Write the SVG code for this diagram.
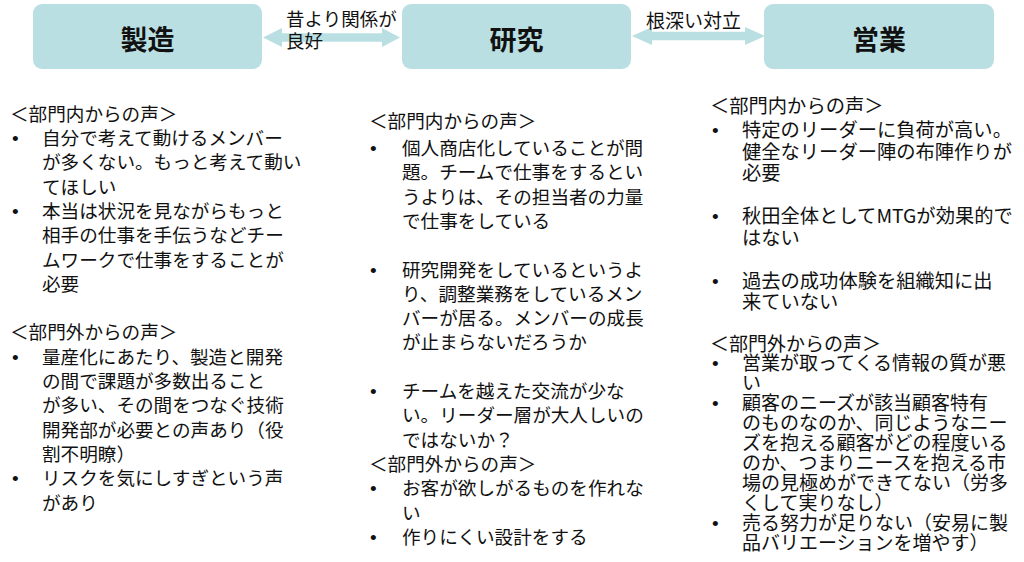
<svg xmlns="http://www.w3.org/2000/svg" width="1024" height="562" viewBox="0 0 1024 562">
<style>
.box{fill:#b9dfe3;}
.arrow{fill:#b9dfe3;}
.title{font-family:"Noto Sans CJK JP","Noto Sans CJK SC",sans-serif;font-size:27px;font-weight:bold;fill:#111;text-anchor:middle;}
.lbl{font-family:"Noto Sans CJK JP","Noto Sans CJK SC",sans-serif;font-size:18.5px;fill:#111;}
.body{font-family:"Noto Sans CJK JP","Noto Sans CJK SC",sans-serif;font-size:18.6px;fill:#111;}
.bodyr{font-family:"Noto Sans CJK JP","Noto Sans CJK SC",sans-serif;font-size:19.3px;fill:#111;}
.bodyr2{font-family:"Noto Sans CJK JP","Noto Sans CJK SC",sans-serif;font-size:19px;fill:#111;}
.bul{font-family:"Liberation Sans",Arial,sans-serif;font-size:19px;fill:#111;}
</style>
<rect width="1024" height="562" fill="#ffffff"/>

<g id="connectors">
  <polygon class="arrow" points="263,37.5 282,28 282,33.3 382,33.3 382,28 400,37.5 382,47 382,41.7 282,41.7 282,47"/>
  <polygon class="arrow" points="632,36 652,27 652,31.7 745,31.7 745,27 765,36 745,45 745,40.3 652,40.3 652,45"/>
  <text class="lbl" x="286" y="26">昔より関係が</text>
  <text class="lbl" x="286" y="48">良好</text>
  <text class="lbl" x="646" y="28" style="font-size:19px">根深い対立</text>
</g>

<g id="node-seizo">
  <rect class="box" x="33" y="4" width="229" height="65" rx="9"/>
  <text class="title" x="147.5" y="50">製造</text>
</g>
<g id="node-kenkyu">
  <rect class="box" x="402" y="4" width="229" height="65" rx="9"/>
  <text class="title" x="516.5" y="50">研究</text>
</g>
<g id="node-eigyo">
  <rect class="box" x="764" y="4" width="230" height="65" rx="9"/>
  <text class="title" x="879" y="50">営業</text>
</g>

<g id="notes-seizo">
  <text class="body" x="10" y="121">＜部門内からの声＞</text>
  <text class="bul" x="12" y="145">•</text>
  <text class="bul" x="12" y="217.9">•</text>
  <text class="body">
    <tspan x="42" y="145">自分で考えて動けるメンバー</tspan>
    <tspan x="42" y="169.3">が多くない。もっと考えて動い</tspan>
    <tspan x="42" y="193.6">てほしい</tspan>
    <tspan x="42" y="217.9">本当は状況を見ながらもっと</tspan>
    <tspan x="42" y="242.2">相手の仕事を手伝うなどチー</tspan>
    <tspan x="42" y="266.5">ムワークで仕事をすることが</tspan>
    <tspan x="42" y="290.8">必要</tspan>
  </text>
  <text class="body" x="10" y="339.4">＜部門外からの声＞</text>
  <text class="bul" x="12" y="363.7">•</text>
  <text class="bul" x="12" y="485.2">•</text>
  <text class="body">
    <tspan x="42" y="363.7">量産化にあたり、製造と開発</tspan>
    <tspan x="42" y="388">の間で課題が多数出ること</tspan>
    <tspan x="42" y="412.3">が多い、その間をつなぐ技術</tspan>
    <tspan x="42" y="436.6">開発部が必要との声あり（役</tspan>
    <tspan x="42" y="460.9">割不明瞭）</tspan>
    <tspan x="42" y="485.2">リスクを気にしすぎという声</tspan>
    <tspan x="42" y="509.5">があり</tspan>
  </text>
</g>

<g id="notes-kenkyu">
  <text class="body" x="369" y="128">＜部門内からの声＞</text>
  <text class="bul" x="370" y="155">•</text>
  <text class="bul" x="370" y="276.5">•</text>
  <text class="bul" x="370" y="398">•</text>
  <text class="body">
    <tspan x="402" y="155">個人商店化していることが問</tspan>
    <tspan x="402" y="179.3">題。チームで仕事をするとい</tspan>
    <tspan x="402" y="203.6">うよりは、その担当者の力量</tspan>
    <tspan x="402" y="227.9">で仕事をしている</tspan>
    <tspan x="402" y="276.5">研究開発をしているというよ</tspan>
    <tspan x="402" y="300.8">り、調整業務をしているメン</tspan>
    <tspan x="402" y="325.1">バーが居る。メンバーの成長</tspan>
    <tspan x="402" y="349.4">が止まらないだろうか</tspan>
    <tspan x="402" y="398">チームを越えた交流が少な</tspan>
    <tspan x="402" y="422.3">い。リーダー層が大人しいの</tspan>
    <tspan x="402" y="446.6">ではないか？</tspan>
  </text>
  <text class="body" x="369" y="470.9">＜部門外からの声＞</text>
  <text class="bul" x="370" y="495.2">•</text>
  <text class="bul" x="370" y="543.8">•</text>
  <text class="body">
    <tspan x="402" y="495.2">お客が欲しがるものを作れな</tspan>
    <tspan x="402" y="519.5">い</tspan>
    <tspan x="402" y="543.8">作りにくい設計をする</tspan>
  </text>
</g>

<g id="notes-eigyo">
  <text class="bodyr" x="710" y="113">＜部門内からの声＞</text>
  <text class="bul" x="712" y="137">•</text>
  <text class="bul" x="712" y="223">•</text>
  <text class="bul" x="712" y="287.5">•</text>
  <text class="bodyr">
    <tspan x="742" y="137">特定のリーダーに負荷が高い。</tspan>
    <tspan x="742" y="158.5">健全なリーダー陣の布陣作りが</tspan>
    <tspan x="742" y="180">必要</tspan>
    <tspan x="742" y="223">秋田全体としてMTGが効果的で</tspan>
    <tspan x="742" y="244.5">はない</tspan>
    <tspan x="742" y="287.5">過去の成功体験を組織知に出</tspan>
    <tspan x="742" y="309">来ていない</tspan>
  </text>
  <text class="bodyr2" x="710" y="350.5">＜部門外からの声＞</text>
  <text class="bul" x="712" y="370.4">•</text>
  <text class="bul" x="712" y="410.2">•</text>
  <text class="bul" x="712" y="529.6">•</text>
  <text class="bodyr2">
    <tspan x="742" y="370.4">営業が取ってくる情報の質が悪</tspan>
    <tspan x="742" y="390.3">い</tspan>
    <tspan x="742" y="410.2">顧客のニーズが該当顧客特有</tspan>
    <tspan x="742" y="430.1">のものなのか、同じようなニー</tspan>
    <tspan x="742" y="450">ズを抱える顧客がどの程度いる</tspan>
    <tspan x="742" y="469.9">のか、つまりニースを抱える市</tspan>
    <tspan x="742" y="489.8">場の見極めができてない（労多</tspan>
    <tspan x="742" y="509.7">くして実りなし）</tspan>
    <tspan x="742" y="529.6">売る努力が足りない（安易に製</tspan>
    <tspan x="742" y="549.5">品バリエーションを増やす）</tspan>
  </text>
</g>
</svg>
